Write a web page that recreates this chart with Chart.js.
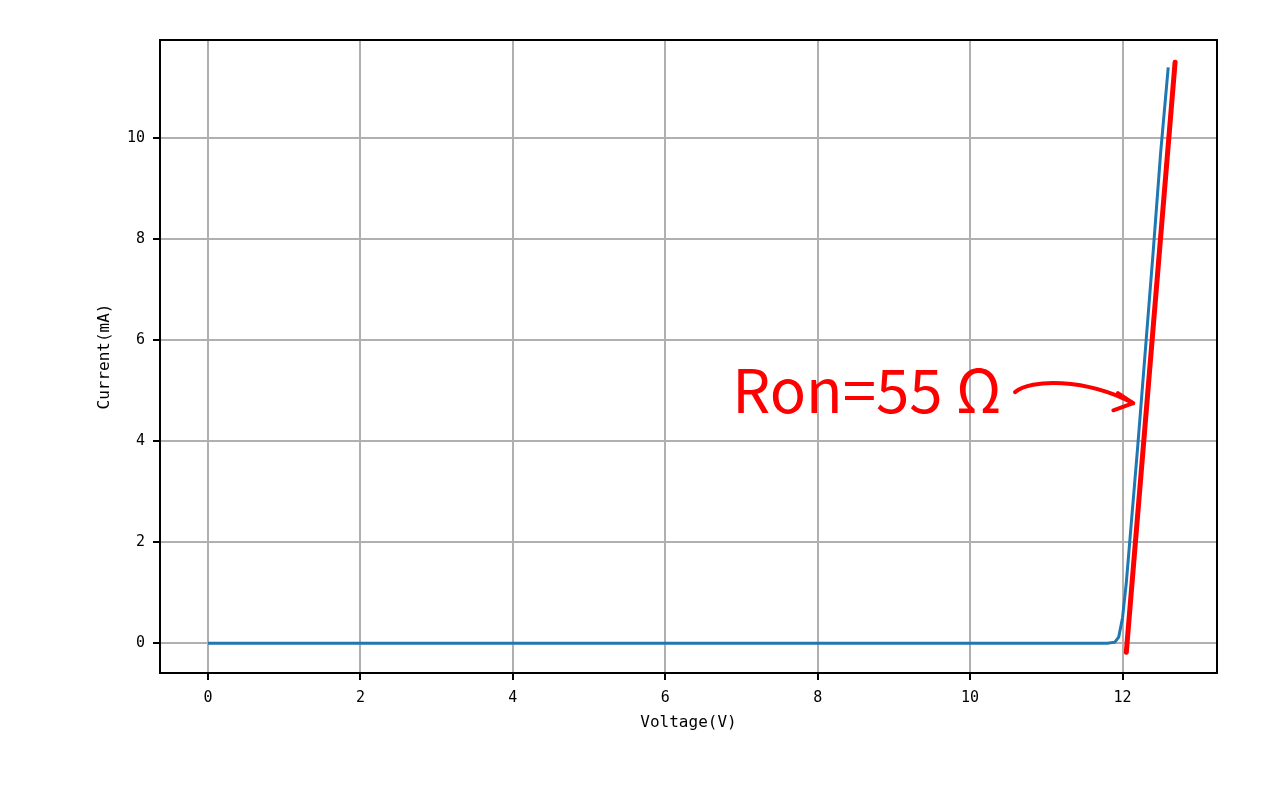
<!DOCTYPE html>
<html>
<head>
<meta charset="utf-8">
<script src="https://cdn.jsdelivr.net/npm/chart.js@4"></script>
<style>
  html, body { margin: 0; padding: 0; background: #fff; }
  #wrap { width: 1280px; height: 800px; }
</style>
</head>
<body>
<div id="wrap"><canvas id="ivChart" width="1280" height="800"></canvas></div>
<script>
// measured I-V curve (voltage in V, current in mA)
const voltage = [0, 2, 4, 6, 8, 10, 11.5, 11.8, 11.9, 11.95, 12.0, 12.05, 12.1, 12.2, 12.3, 12.4, 12.5, 12.6];
const current = [0, 0, 0, 0, 0, 0, 0, 0, 0.02, 0.12, 0.5, 1.2, 2.1, 3.9, 5.8, 7.7, 9.7, 11.4];

// hand-drawn fit line
const fitVoltage = [12.05, 12.69];
const fitCurrent = [-0.18, 11.5];

const xTicks = [0, 2, 4, 6, 8, 10, 12];
const yTicks = [0, 2, 4, 6, 8, 10];

const xTitle = 'Voltage(V)';
const yTitle = 'Current(mA)';

const annotationText = 'Ron=55 Ω';
const annotationAt = { x: 6.88, y: 4.55 };
// arrow: start, two control points, tip
const arrowCurve = [[10.59, 4.97], [10.79, 5.23], [11.51, 5.25], [12.14, 4.75]];
const arrowBarbs = [[11.94, 4.95], [11.88, 4.61]];

const monoFamily = "'DejaVu Sans Mono', monospace";
const tickFont = { family: monoFamily, size: 15 };

const frame = {
  id: 'frame',
  afterDatasetsDraw(chart) {
    const { ctx, chartArea: a } = chart;
    ctx.save();
    ctx.strokeStyle = '#000';
    ctx.lineWidth = 2;
    ctx.strokeRect(a.left, a.top, a.right - a.left, a.bottom - a.top);

    // axis titles
    ctx.fillStyle = '#000';
    ctx.font = '16px ' + monoFamily;
    ctx.textAlign = 'center';
    ctx.textBaseline = 'middle';
    ctx.fillText(xTitle, (a.left + a.right) / 2, 723);
    ctx.translate(105, (a.top + a.bottom) / 2);
    ctx.rotate(-Math.PI / 2);
    ctx.fillText(yTitle, 0, 0);
    ctx.restore();
  }
};

const annotate = {
  id: 'annotate',
  afterDatasetsDraw(chart) {
    const { ctx } = chart;
    const xs = chart.scales.x, ys = chart.scales.y;
    const px = p => [xs.getPixelForValue(p[0]), ys.getPixelForValue(p[1])];
    ctx.save();
    ctx.fillStyle = '#ff0000';
    ctx.font = "60px 'Noto Sans CJK SC', 'Noto Sans', sans-serif";
    ctx.textBaseline = 'alphabetic';
    ctx.fillText(annotationText, xs.getPixelForValue(annotationAt.x), ys.getPixelForValue(annotationAt.y));

    ctx.strokeStyle = '#ff0000';
    ctx.lineWidth = 4;
    ctx.lineCap = 'round';
    ctx.lineJoin = 'round';
    const [p0, p1, p2, p3] = arrowCurve.map(px);
    ctx.beginPath();
    ctx.moveTo(p0[0], p0[1]);
    ctx.bezierCurveTo(p1[0], p1[1], p2[0], p2[1], p3[0], p3[1]);
    ctx.stroke();
    ctx.beginPath();
    arrowBarbs.map(px).forEach(b => {
      ctx.moveTo(b[0], b[1]);
      ctx.lineTo(p3[0], p3[1]);
    });
    ctx.stroke();
    ctx.restore();
  }
};

const ctx = document.getElementById('ivChart').getContext('2d');
new Chart(ctx, {
  type: 'line',
  data: {
    datasets: [
      {
        data: voltage.map((v, i) => ({ x: v, y: current[i] })),
        borderColor: '#1f77b4',
        borderWidth: 3,
        pointRadius: 0,
        tension: 0
      },
      {
        data: fitVoltage.map((v, i) => ({ x: v, y: fitCurrent[i] })),
        borderColor: '#ff0000',
        borderWidth: 5,
        borderCapStyle: 'round',
        pointRadius: 0
      }
    ]
  },
  options: {
    responsive: false,
    animation: false,
    layout: { padding: { top: 40, right: 63, left: 0, bottom: 0 } },
    plugins: { legend: { display: false }, tooltip: { enabled: false } },
    scales: {
      x: {
        type: 'linear',
        min: -0.63,
        max: 13.24,
        afterBuildTicks: s => { s.ticks = xTicks.map(v => ({ value: v })); },
        afterFit: s => { s.height = 127; },
        grid: { color: '#b0b0b0', lineWidth: 2, tickColor: '#000', tickLength: 7 },
        border: { color: '#000', width: 2 },
        ticks: { color: '#000', font: tickFont, padding: 9, maxRotation: 0 }
      },
      y: {
        type: 'linear',
        min: -0.59,
        max: 11.94,
        afterBuildTicks: s => { s.ticks = yTicks.map(v => ({ value: v })); },
        afterFit: s => { s.width = 160; },
        grid: { color: '#b0b0b0', lineWidth: 2, tickColor: '#000', tickLength: 7 },
        border: { color: '#000', width: 2 },
        ticks: { color: '#000', font: tickFont, padding: 8 }
      }
    }
  },
  plugins: [frame, annotate]
});
</script>
</body>
</html>
